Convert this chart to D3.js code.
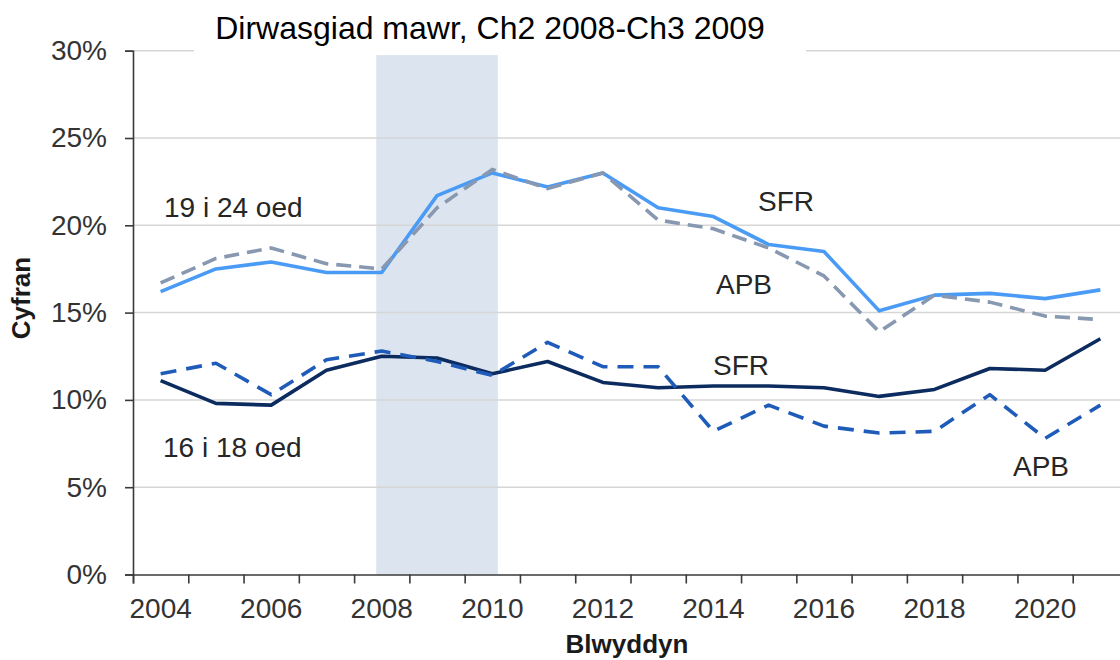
<!DOCTYPE html>
<html>
<head>
<meta charset="utf-8">
<script src="https://cdn.jsdelivr.net/npm/d3@7"></script>
<style>
    body { margin: 0; background: #ffffff; }
    svg text { font-family: "Liberation Sans", Arial, sans-serif; }
</style>
</head>
<body>
<svg id="chart" width="1120" height="660"></svg>
<script>
// years on the x axis (one category each)
const years = [2004, 2005, 2006, 2007, 2008, 2009, 2010, 2011, 2012, 2013, 2014, 2015, 2016, 2017, 2018, 2019, 2020, 2021];
const labelYears = [2004, 2006, 2008, 2010, 2012, 2014, 2016, 2018, 2020];
const yTicks = [0, 5, 10, 15, 20, 25, 30];

// 19 i 24 oed
const sfr1924 = [16.2, 17.5, 17.9, 17.3, 17.3, 21.7, 23.0, 22.2, 23.0, 21.0, 20.5, 18.9, 18.5, 15.1, 16.0, 16.1, 15.8, 16.3];
const apb1924 = [16.7, 18.1, 18.7, 17.8, 17.5, 21.0, 23.2, 22.1, 23.0, 20.3, 19.8, 18.7, 17.1, 13.9, 16.0, 15.6, 14.8, 14.6];
// 16 i 18 oed
const sfr1618 = [11.1, 9.8, 9.7, 11.7, 12.5, 12.4, 11.5, 12.2, 11.0, 10.7, 10.8, 10.8, 10.7, 10.2, 10.6, 11.8, 11.7, 13.5];
const apb1618 = [11.5, 12.1, 10.3, 12.3, 12.8, 12.2, 11.4, 13.3, 11.9, 11.9, 8.2, 9.7, 8.5, 8.1, 8.2, 10.3, 7.8, 9.7];

// recession band, in category units (Ch2 2008 - Ch3 2009)
const recession = [2008.4, 2010.6];
const recessionLabel = "Dirwasgiad mawr, Ch2 2008-Ch3 2009";

const svg = d3.select("#chart");

// plot area (don't call these top/left, window already has top)
const plotLeft = 133, plotRight = 1128, plotTop = 50.7, plotBottom = 574.5;

// continuous x so the band can sit between categories
const x = d3.scaleLinear().domain([2004, 2022]).range([plotLeft, plotRight]);
// band scale just for centred year labels
const xBand = d3.scaleBand().domain(years).range([plotLeft, plotRight]);
const y = d3.scaleLinear().domain([0, 30]).range([plotBottom, plotTop]);

//------------------
// recession shading
svg.append("rect")
    .attr("x", x(recession[0]))
    .attr("y", y(29.75))
    .attr("width", x(recession[1]) - x(recession[0]))
    .attr("height", y(0) - y(29.75))
    .attr("fill", "#dce5ef");

// gridlines
svg.append("g")
    .selectAll("line")
    .data(yTicks.filter(d => d > 0))
    .join("line")
    .attr("x1", plotLeft)
    .attr("x2", 1120)
    .attr("y1", d => y(d))
    .attr("y2", d => y(d))
    .attr("stroke", "#d6d6d6")
    .attr("stroke-width", 1.5);

// white box behind the title hides the top gridline
svg.append("rect")
    .attr("x", 194)
    .attr("y", 0)
    .attr("width", 612)
    .attr("height", 54)
    .attr("fill", "#ffffff");

svg.append("text")
    .attr("x", 490)
    .attr("y", 39)
    .attr("text-anchor", "middle")
    .attr("font-size", "32px")
    .attr("fill", "#000000")
    .text(recessionLabel);

//------------------
// axes
const yAxis = svg.append("g")
    .attr("transform", `translate(${plotLeft},0)`)
    .call(d3.axisLeft(y).tickValues(yTicks).tickFormat(d => d + "%").tickSize(8).tickPadding(18));

const xAxis = svg.append("g")
    .attr("transform", `translate(0,${plotBottom})`)
    .call(d3.axisBottom(x).tickValues(years).tickFormat("").tickSize(9));

const xLabels = svg.append("g")
    .attr("transform", `translate(0,${plotBottom})`)
    .call(d3.axisBottom(xBand).tickValues(labelYears).tickSize(0).tickPadding(24));
xLabels.select(".domain").remove();

[yAxis, xAxis].forEach(g => {
    g.select(".domain").attr("stroke", "#3a3a3a").attr("stroke-width", 1.6);
    g.selectAll(".tick line").attr("stroke", "#3a3a3a").attr("stroke-width", 1.6);
});
[yAxis, xLabels].forEach(g => {
    g.selectAll(".tick text")
        .attr("font-size", "28px")
        .attr("font-family", "Liberation Sans, Arial, sans-serif")
        .attr("fill", "#333333");
});

// axis titles
svg.append("text")
    .attr("transform", "translate(30,298) rotate(-90)")
    .attr("text-anchor", "middle")
    .attr("font-size", "26px")
    .attr("font-weight", "bold")
    .attr("fill", "#1a1a1a")
    .text("Cyfran");

// sits right on the bottom edge like the original
svg.append("text")
    .attr("x", 627)
    .attr("y", 653)
    .attr("text-anchor", "middle")
    .attr("font-size", "26px")
    .attr("font-weight", "bold")
    .attr("fill", "#1a1a1a")
    .text("Blwyddyn");

//------------------
// lines
const line = d3.line()
    .x((d, i) => x(years[i] + 0.5))
    .y(d => y(d));

const series = [
    { values: sfr1924, color: "#4a9bf5", dash: null },
    { values: apb1924, color: "#8798b0", dash: "15,8" },
    { values: sfr1618, color: "#0c2b5f", dash: null },
    { values: apb1618, color: "#1f5cba", dash: "16,10" }
];

svg.append("g")
    .selectAll("path")
    .data(series)
    .join("path")
    .attr("d", d => line(d.values))
    .attr("fill", "none")
    .attr("stroke", d => d.color)
    .attr("stroke-width", 3.6)
    .attr("stroke-dasharray", d => d.dash)
    .attr("stroke-linejoin", "round");

//------------------
// series labels
const notes = [
    { text: "19 i 24 oed", x: 164, y: 217 },
    { text: "16 i 18 oed", x: 163, y: 457 },
    { text: "SFR", x: 758, y: 211 },
    { text: "APB", x: 716, y: 294 },
    { text: "SFR", x: 713, y: 375 },
    { text: "APB", x: 1013, y: 476 }
];

svg.append("g")
    .selectAll("text")
    .data(notes)
    .join("text")
    .attr("x", d => d.x)
    .attr("y", d => d.y)
    .attr("font-size", "28px")
    .attr("fill", "#262626")
    .text(d => d.text);
</script>
</body>
</html>
